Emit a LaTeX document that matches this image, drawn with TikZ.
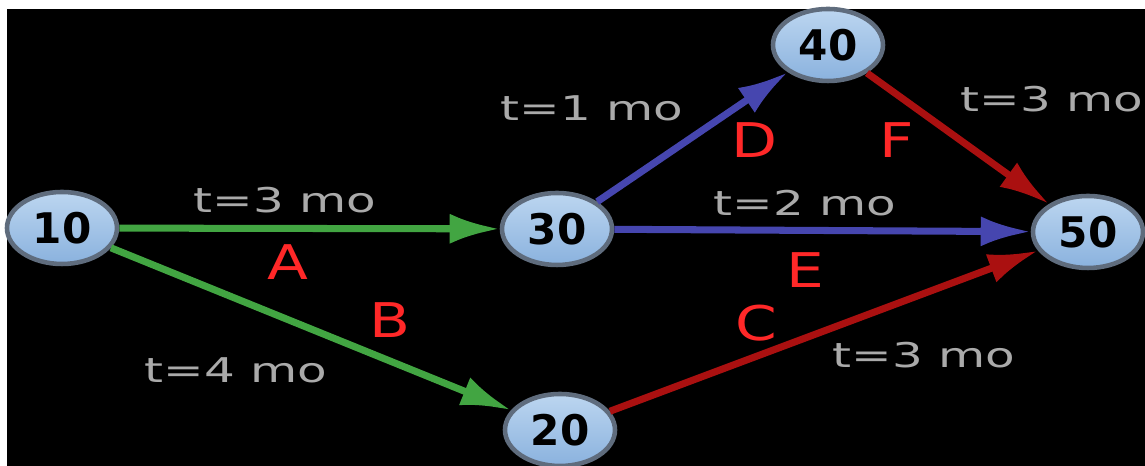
\documentclass[tikz,border=0pt]{standalone}
\usepackage{fontspec}
\usetikzlibrary{arrows.meta,shapes.geometric}
\newfontfamily\eventfont{DejaVu Sans}
\newfontfamily\durfont[FakeStretch=1.42]{DejaVu Sans}
\newfontfamily\actfont[FakeStretch=1.25]{DejaVu Sans}
\definecolor{actgreen}{RGB}{66,165,66}
\definecolor{actblue}{RGB}{70,70,175}
\definecolor{actred}{RGB}{170,16,16}
\definecolor{durgray}{RGB}{170,170,170}
\definecolor{letterred}{RGB}{255,40,40}
\definecolor{evtop}{RGB}{188,214,240}
\definecolor{evbottom}{RGB}{138,178,222}
\definecolor{evborder}{RGB}{95,108,125}
\begin{document}
\begin{tikzpicture}[
		>={Latex[length=5mm,width=3mm]},
		event/.style={ellipse, draw=evborder, line width=1.3pt,
			top color=evtop, bottom color=evbottom,
			minimum width=1.1cm, minimum height=0.72cm, inner sep=0pt,
			font=\eventfont\bfseries\fontsize{12}{14}\selectfont},
		dur/.style={text=durgray, inner sep=0pt, font=\durfont\fontsize{9.7}{11}\selectfont},
		act/.style={text=letterred, inner sep=0pt, font=\actfont\fontsize{13.6}{15}\selectfont},
		edge/.style={->, line width=2pt}
	]
		% page and black panel
		\fill[white] (0,0) rectangle (11.45,4.66);
		\fill[black] (0.07,0) rectangle (11.45,4.57);
		\useasboundingbox (0,0) rectangle (11.45,4.66);
		% events
		\node[event] (n10) at (0.62,2.38) {10};
		\node[event] (n30) at (5.57,2.37) {30};
		\node[event] (n40) at (8.28,4.21) {40};
		\node[event] (n50) at (10.88,2.34) {50};
		\node[event] (n20) at (5.60,0.36) {20};
		% activities
		\draw[edge, actgreen] (n10) to (n30);
		\draw[edge, actgreen] (n10) to (n20);
		\draw[edge, actred] (n20) to (n50);
		\draw[edge, actblue] (n30) to (n40);
		\draw[edge, actblue] (n30) to (n50);
		\draw[edge, actred] (n40) to (n50);
		% activity names
		\node[act] (actA) at (2.88,2.04) {A};
		\node[act] (actB) at (3.90,1.46) {B};
		\node[act] (actC) at (7.56,1.43) {C};
		\node[act] (actD) at (7.55,3.26) {D};
		\node[act] (actE) at (8.05,1.96) {E};
		\node[act] (actF) at (8.97,3.26) {F};
		% durations
		\node[dur] (durA) at (2.85,2.66) {t=3 mo};
		\node[dur] (durB) at (2.36,0.96) {t=4 mo};
		\node[dur] (durC) at (9.24,1.11) {t=3 mo};
		\node[dur] (durD) at (5.92,3.58) {t=1 mo};
		\node[dur] (durE) at (8.05,2.63) {t=2 mo};
		\node[dur] (durF) at (10.52,3.67) {t=3 mo};
\end{tikzpicture}
\end{document}
